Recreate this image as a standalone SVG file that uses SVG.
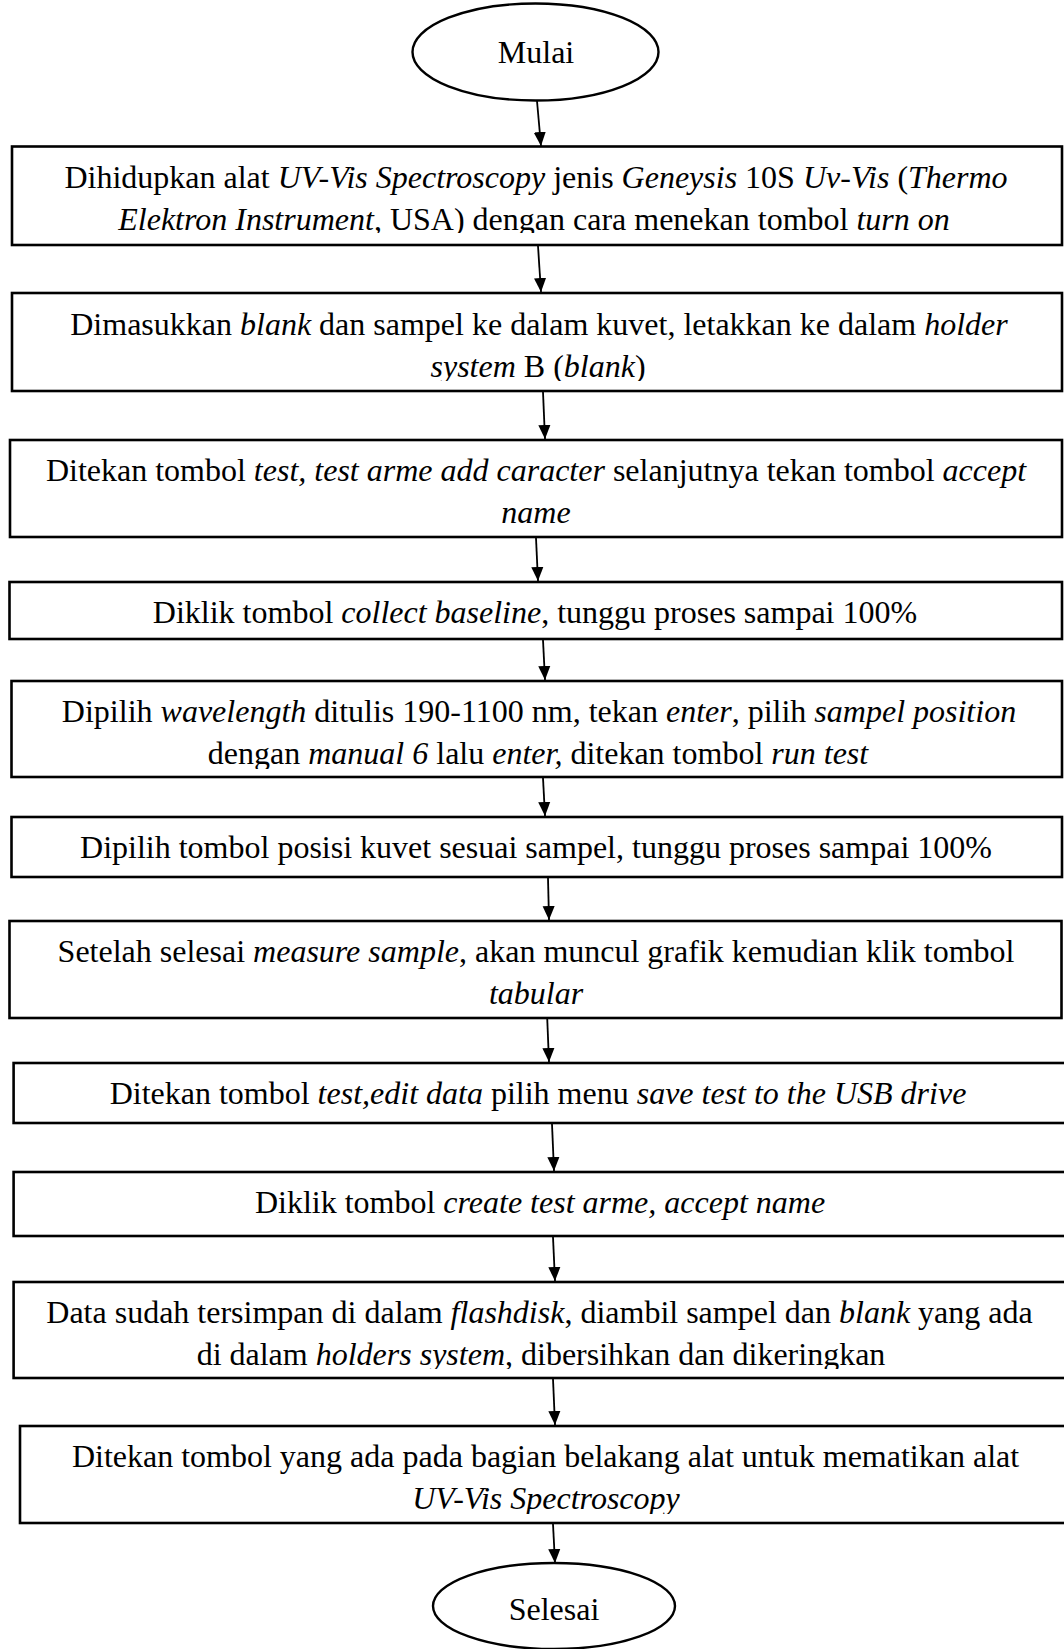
<svg xmlns="http://www.w3.org/2000/svg" width="1064" height="1649" viewBox="0 0 1064 1649">
<style>
.bg{fill:#fff}
.box{fill:#fff;stroke:#000;stroke-width:2.6}
.ell{fill:#fff;stroke:#000;stroke-width:2.4}
.t{font-family:"Liberation Serif","Times New Roman",serif;font-size:32px;fill:#000;text-anchor:middle}
.i{font-style:italic}
.c{stroke:#000;stroke-width:1.8;fill:none}
</style>
<defs>
<marker id="ah" markerUnits="userSpaceOnUse" markerWidth="14" markerHeight="16" refX="15" refY="6.5" orient="auto" viewBox="0 0 15 13">
<path d="M0,0 L15,6.5 L0,13 Z" fill="#000"/>
</marker>
<clipPath id="k1"><rect x="0" y="146" width="1064" height="87"/></clipPath>
<clipPath id="k2"><rect x="0" y="293" width="1064" height="88"/></clipPath>
<clipPath id="k3"><rect x="0" y="440" width="1064" height="88"/></clipPath>
<clipPath id="k5"><rect x="0" y="681" width="1064" height="88"/></clipPath>
<clipPath id="k7"><rect x="0" y="921" width="1064" height="88"/></clipPath>
<clipPath id="k10"><rect x="0" y="1282" width="1064" height="87"/></clipPath>
<clipPath id="k11"><rect x="0" y="1426" width="1064" height="88"/></clipPath>
</defs>
<rect class="bg" x="0" y="0" width="1064" height="1649"/>

<g id="connectors">
<line class="c" x1="537" y1="101" x2="541" y2="146" marker-end="url(#ah)"/>
<line class="c" x1="538" y1="246" x2="541" y2="292" marker-end="url(#ah)"/>
<line class="c" x1="543" y1="392" x2="545" y2="439" marker-end="url(#ah)"/>
<line class="c" x1="536" y1="538" x2="538" y2="581" marker-end="url(#ah)"/>
<line class="c" x1="543" y1="640" x2="545" y2="680" marker-end="url(#ah)"/>
<line class="c" x1="543" y1="778" x2="545" y2="816" marker-end="url(#ah)"/>
<line class="c" x1="548" y1="878" x2="549" y2="920" marker-end="url(#ah)"/>
<line class="c" x1="547" y1="1013" x2="549" y2="1062" marker-end="url(#ah)"/>
<line class="c" x1="552" y1="1124" x2="554" y2="1171" marker-end="url(#ah)"/>
<line class="c" x1="553" y1="1237" x2="555" y2="1281" marker-end="url(#ah)"/>
<line class="c" x1="553" y1="1379" x2="555" y2="1425" marker-end="url(#ah)"/>
<line class="c" x1="553" y1="1524" x2="555" y2="1563" marker-end="url(#ah)"/>
</g>

<g id="mulai">
<ellipse class="ell" cx="535.5" cy="52" rx="123" ry="48.5"/>
<text class="t" x="536" y="63">Mulai</text>
</g>

<g id="step1">
<rect class="box" x="12" y="146.5" width="1050" height="98.5"/>
<g clip-path="url(#k1)">
<text class="t" x="536" y="188">Dihidupkan alat <tspan class="i">UV-Vis Spectroscopy</tspan> jenis <tspan class="i">Geneysis</tspan> 10S <tspan class="i">Uv-Vis</tspan> (<tspan class="i">Thermo</tspan></text>
<text class="t" x="534" y="230"><tspan class="i">Elektron Instrument</tspan>, USA) dengan cara menekan tombol <tspan class="i">turn on</tspan></text>
</g>
</g>

<g id="step2">
<rect class="box" x="12" y="293" width="1050" height="98"/>
<g clip-path="url(#k2)">
<text class="t" x="539" y="335">Dimasukkan <tspan class="i">blank</tspan> dan sampel ke dalam kuvet, letakkan ke dalam <tspan class="i">holder</tspan></text>
<text class="t" x="538" y="377"><tspan class="i">system</tspan> B (<tspan class="i">blank</tspan>)</text>
</g>
</g>

<g id="step3">
<rect class="box" x="10" y="440" width="1052" height="97"/>
<g clip-path="url(#k3)">
<text class="t" x="536" y="481">Ditekan tombol <tspan class="i">test, test arme add caracter</tspan> selanjutnya tekan tombol <tspan class="i">accept</tspan></text>
<text class="t" x="536" y="523"><tspan class="i">name</tspan></text>
</g>
</g>

<g id="step4">
<rect class="box" x="9.5" y="582" width="1052.5" height="57"/>
<text class="t" x="535" y="623">Diklik tombol <tspan class="i">collect baseline</tspan>, tunggu proses sampai 100%</text>
</g>

<g id="step5">
<rect class="box" x="11.5" y="681" width="1050.5" height="96"/>
<g clip-path="url(#k5)">
<text class="t" x="539" y="722">Dipilih <tspan class="i">wavelength</tspan> ditulis 190-1100 nm, tekan <tspan class="i">enter</tspan>, pilih <tspan class="i">sampel position</tspan></text>
<text class="t" x="538" y="764">dengan <tspan class="i">manual 6</tspan> lalu <tspan class="i">enter,</tspan> ditekan tombol <tspan class="i">run test</tspan></text>
</g>
</g>

<g id="step6">
<rect class="box" x="11.5" y="817" width="1050.5" height="60"/>
<text class="t" x="536" y="858">Dipilih tombol posisi kuvet sesuai sampel, tunggu proses sampai 100%</text>
</g>

<g id="step7">
<rect class="box" x="9.5" y="921" width="1052" height="97"/>
<g clip-path="url(#k7)">
<text class="t" x="536" y="962">Setelah selesai <tspan class="i">measure sample</tspan>, akan muncul grafik kemudian klik tombol</text>
<text class="t" x="536" y="1004"><tspan class="i">tabular</tspan></text>
</g>
</g>

<g id="step8">
<rect class="box" x="13.6" y="1063" width="1070" height="60"/>
<text class="t" x="538" y="1104">Ditekan tombol <tspan class="i">test,edit data</tspan> pilih menu <tspan class="i">save test to the USB drive</tspan></text>
</g>

<g id="step9">
<rect class="box" x="13.6" y="1172" width="1070" height="64"/>
<text class="t" x="540" y="1213">Diklik tombol <tspan class="i">create test arme, accept name</tspan></text>
</g>

<g id="step10">
<rect class="box" x="13.6" y="1282" width="1070" height="96"/>
<g clip-path="url(#k10)">
<text class="t" x="539.5" y="1323">Data sudah tersimpan di dalam <tspan class="i">flashdisk</tspan>, diambil sampel dan <tspan class="i">blank</tspan> yang ada</text>
<text class="t" x="541" y="1365">di dalam <tspan class="i">holders system</tspan>, dibersihkan dan dikeringkan</text>
</g>
</g>

<g id="step11">
<rect class="box" x="20" y="1426" width="1064" height="97"/>
<g clip-path="url(#k11)">
<text class="t" x="545.5" y="1467">Ditekan tombol yang ada pada bagian belakang alat untuk mematikan alat</text>
<text class="t" x="546" y="1509"><tspan class="i">UV-Vis Spectroscopy</tspan></text>
</g>
</g>

<g id="selesai">
<ellipse class="ell" cx="554" cy="1606" rx="121" ry="43"/>
<text class="t" x="554" y="1620">Selesai</text>
</g>
</svg>
